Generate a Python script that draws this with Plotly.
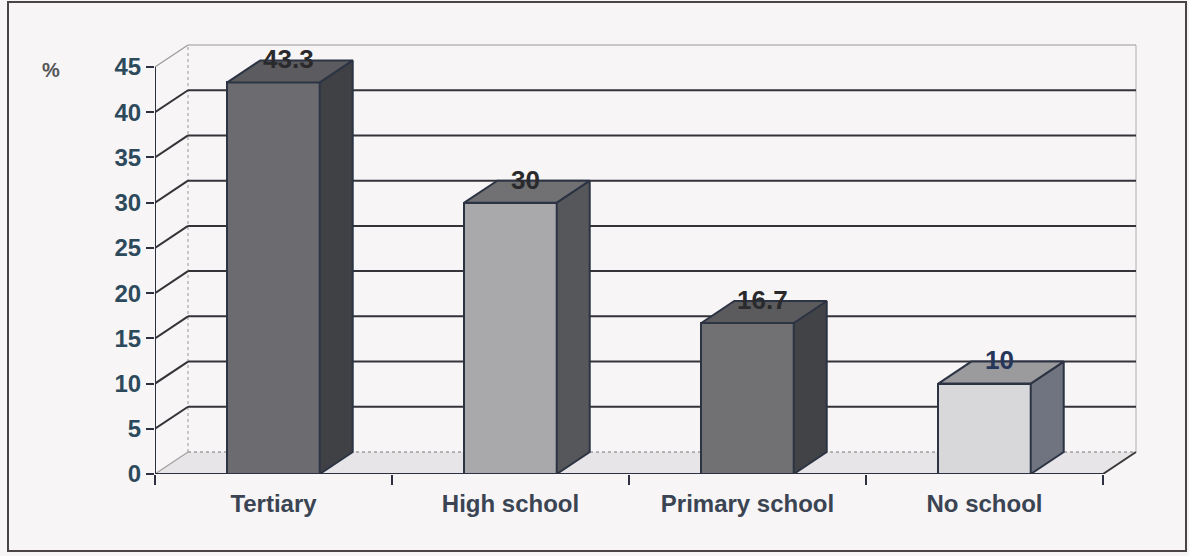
import plotly.graph_objects as go

categories = ["Tertiary", "High school", "Primary school", "No school"]
values = [43.3, 30, 16.7, 10]
value_labels = ["43.3", "30", "16.7", "10"]
y_ticks = [0, 5, 10, 15, 20, 25, 30, 35, 40, 45]

front_colors = ["#6c6c70", "#a9a9ac", "#717174", "#d8d8da"]
top_colors = ["#5c5c60", "#717174", "#5b5b5e", "#9b9b9e"]
side_colors = ["#404145", "#56575a", "#424346", "#6f7480"]
label_colors = ["#2a2a2c", "#2a2a2c", "#2a2a2c", "#26365a"]

W = 1189
H = 556
left_px, right_px, top_px, bottom_px = 155, 1140, 40, 474
cat_px = 237.0
px_per_unit = (bottom_px - 67) / 45.0
DX = 33 / cat_px
DY = 22 / px_per_unit
BW = 0.39
x_max = -0.5 + (right_px - left_px) / cat_px
y_max = (bottom_px - top_px) / px_per_unit
x_front_end = len(categories) - 0.5
EDGE = "#2c3444"
FONT = "Liberation Sans"

fig = go.Figure()

# front faces
fig.add_trace(go.Bar(
    x=list(range(len(categories))), y=values, width=BW,
    marker=dict(color=front_colors, line=dict(color=EDGE, width=2)),
    hoverinfo="skip", showlegend=False,
))

# side and top faces
for i, v in enumerate(values):
    xr = i + BW / 2
    xl = i - BW / 2
    fig.add_trace(go.Scatter(
        x=[xr, xr + DX, xr + DX, xr, xr], y=[0, DY, v + DY, v, 0],
        fill="toself", fillcolor=side_colors[i], mode="lines",
        line=dict(color=EDGE, width=2), hoverinfo="skip", showlegend=False))
    fig.add_trace(go.Scatter(
        x=[xl, xr, xr + DX, xl + DX, xl], y=[v, v, v + DY, v + DY, v],
        fill="toself", fillcolor=top_colors[i], mode="lines",
        line=dict(color=EDGE, width=2), hoverinfo="skip", showlegend=False))

# floor
fig.add_shape(type="path", xref="x", yref="y", layer="below",
              path=f"M -0.5,0 L {x_front_end},0 L {x_front_end + DX},{DY} L {-0.5 + DX},{DY} Z",
              fillcolor="#e7e5e8", line=dict(width=0))
# back wall edges
fig.add_shape(type="line", xref="x", yref="y", layer="below",
              x0=-0.5 + DX, y0=DY, x1=-0.5 + DX, y1=45 + DY,
              line=dict(color="#a8a8a8", width=1.2, dash="dot"))
fig.add_shape(type="line", xref="x", yref="y", layer="below",
              x0=x_front_end + DX, y0=DY, x1=x_front_end + DX, y1=45 + DY,
              line=dict(color="#b0b0b0", width=1))
fig.add_shape(type="line", xref="x", yref="y", layer="below",
              x0=-0.5 + DX, y0=DY, x1=x_front_end + DX, y1=DY,
              line=dict(color="#a0a0a0", width=1.5, dash="dot"))
fig.add_shape(type="line", xref="x", yref="y", layer="below",
              x0=-0.5, y0=0, x1=-0.5 + DX, y1=DY,
              line=dict(color="#a0a0a0", width=1.2))
# gridlines on back wall
for t in y_ticks[1:]:
    col = "#9a9a9a" if t == y_ticks[-1] else "#333338"
    wid = 1.2 if t == y_ticks[-1] else 2
    fig.add_shape(type="line", xref="x", yref="y", layer="below",
                  x0=-0.5, y0=t, x1=-0.5 + DX, y1=t + DY, line=dict(color=col, width=wid))
    fig.add_shape(type="line", xref="x", yref="y", layer="below",
                  x0=-0.5 + DX, y0=t + DY, x1=x_front_end + DX, y1=t + DY,
                  line=dict(color=col, width=wid))
# front axes
fig.add_shape(type="line", xref="x", yref="y", layer="above",
              x0=-0.5, y0=0, x1=-0.5, y1=45, line=dict(color="#2c3040", width=2))
fig.add_shape(type="line", xref="x", yref="y", layer="above",
              x0=-0.5, y0=0, x1=x_front_end, y1=0, line=dict(color="#2c3040", width=2))
fig.add_shape(type="line", xref="x", yref="y", layer="below",
              x0=x_front_end, y0=0, x1=x_front_end + DX, y1=DY, line=dict(color="#3a3a3a", width=2))
# outer border
fig.add_shape(type="rect", xref="paper", yref="paper",
              x0=(8 - left_px) / (right_px - left_px), x1=(1186 - left_px) / (right_px - left_px),
              y0=(bottom_px - 551) / (bottom_px - top_px), y1=(bottom_px - 2) / (bottom_px - top_px),
              line=dict(color="#4a4446", width=2), layer="below")

for i, v in enumerate(values):
    fig.add_annotation(x=i + DX * 0.45, y=v + DY * 1.05, xref="x", yref="y",
                       text=value_labels[i], showarrow=False,
                       font=dict(family=FONT, size=26, color=label_colors[i], weight="bold"))
fig.add_annotation(x=(51 - left_px) / (right_px - left_px), y=(bottom_px - 70) / (bottom_px - top_px),
                   xref="paper", yref="paper", text="%", showarrow=False,
                   xanchor="center", yanchor="middle",
                   font=dict(family=FONT, size=20, color="#555558", weight="bold"))

fig.update_layout(
    width=W, height=H,
    margin=dict(l=left_px, r=W - right_px, t=top_px, b=H - bottom_px),
    paper_bgcolor="#f7f5f6", plot_bgcolor="rgba(0,0,0,0)",
    bargap=0, showlegend=False,
    xaxis=dict(range=[-0.5, x_max], tickvals=list(range(len(categories))), ticktext=categories,
               showgrid=False, zeroline=False, showline=False, ticks="", ticklabelstandoff=13,
               minor=dict(ticks="outside", tick0=-0.5, dtick=1, ticklen=10, tickcolor="#2c3040",
                          tickwidth=2, showgrid=False),
               tickfont=dict(family=FONT, size=24, color="#3a4452", weight="bold"),
               fixedrange=True),
    yaxis=dict(range=[0, y_max], tickvals=y_ticks, showgrid=False, zeroline=False, showline=False,
               ticks="outside", ticklen=8, tickwidth=2, tickcolor="#2c3040",
               tickfont=dict(family=FONT, size=24, color="#2d4a5c", weight="bold"),
               fixedrange=True),
)

fig.write_html("out.html")
